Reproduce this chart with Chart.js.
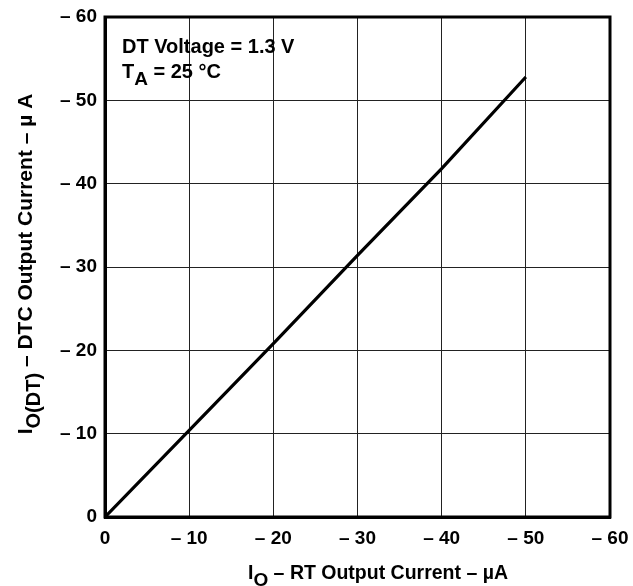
<!DOCTYPE html>
<html>
<head>
<meta charset="utf-8">
<script src="https://cdn.jsdelivr.net/npm/chart.js@4/dist/chart.umd.min.js"></script>
<style>
html,body{margin:0;padding:0;background:#fff;}
#wrap{position:relative;width:633px;height:586px;}
</style>
</head>
<body>
<div id="wrap"><canvas id="c" width="633" height="586"></canvas></div>
<script>
// Data
const rtCurrent = [0, -10, -20, -30, -40, -50];            // I_O (µA)
const dtcCurrent = [0, -10.4, -20.8, -31.4, -41.8, -52.8]; // I_O(DT) (µA)
const xTicks = [0, -10, -20, -30, -40, -50, -60];
const yTicks = [0, -10, -20, -30, -40, -50, -60];
const noteLine1 = 'DT Voltage = 1.3 V';
const noteTemp = ['T', 'A', ' = 25 °C'];
const xTitle = ['I', 'O', ' – RT Output Current – µA'];
const yTitle = ['I', 'O(DT)', ' – DTC Output Current – µ A'];

const FONT = '"Liberation Sans", Arial, sans-serif';
const fmt = v => v === 0 ? '0' : '– ' + Math.abs(v);

function drawSub(ctx, parts, x, y, size, subSize, align) {
  const f = s => 'bold ' + s + 'px ' + FONT;
  ctx.font = f(size);
  const w0 = ctx.measureText(parts[0]).width;
  const w2 = ctx.measureText(parts[2]).width;
  ctx.font = f(subSize);
  const w1 = ctx.measureText(parts[1]).width;
  const total = w0 + w1 + w2;
  const sx = align === 'center' ? x - total / 2 : x;
  ctx.textAlign = 'left';
  ctx.textBaseline = 'alphabetic';
  ctx.font = f(size);
  ctx.fillText(parts[0], sx, y);
  ctx.font = f(subSize);
  ctx.fillText(parts[1], sx + w0, y + size * 0.36);
  ctx.font = f(size);
  ctx.fillText(parts[2], sx + w0 + w1, y);
}

const textPlugin = {
  id: 'texts',
  afterDraw(chart) {
    const ctx = chart.ctx;
    const a = chart.chartArea;
    ctx.save();
    ctx.fillStyle = '#000';
    ctx.font = 'bold 20px ' + FONT;
    ctx.textAlign = 'left';
    ctx.textBaseline = 'alphabetic';
    ctx.fillText(noteLine1, a.left + 17, a.top + 36);
    drawSub(ctx, noteTemp, a.left + 17, a.top + 61, 20, 19, 'left');
    // x title
    drawSub(ctx, xTitle, 248, 579, 19.5, 19, 'left');
    // y title
    ctx.translate(32, 264);
    ctx.rotate(-Math.PI / 2);
    drawSub(ctx, yTitle, 0, 0, 21, 20, 'center');
    ctx.restore();
  }
};

new Chart(document.getElementById('c'), {
  type: 'line',
  data: {
    datasets: [{
      data: rtCurrent.map((x, i) => ({x: x, y: dtcCurrent[i]})),
      borderColor: '#000',
      borderWidth: 3.2,
      pointRadius: 0,
      tension: 0,
      fill: false
    }]
  },
  options: {
    responsive: false,
    animation: false,
    events: [],
    layout: {padding: {left: 0, right: 23, top: 17, bottom: 0}},
    plugins: {legend: {display: false}, tooltip: {enabled: false}},
    scales: {
      x: {
        type: 'linear', min: -60, max: 0, reverse: true,
        afterBuildTicks: s => { s.ticks = xTicks.map(v => ({value: v})); },
        afterFit: s => { s.height = 69; s.paddingLeft = 0; s.paddingRight = 0; },
        ticks: {
          callback: fmt, color: '#000', padding: 10, maxRotation: 0,
          font: {family: FONT, size: 19, weight: 'bold'}
        },
        grid: {color: '#222', lineWidth: 1, drawTicks: false},
        border: {color: '#000', width: 3}
      },
      y: {
        type: 'linear', min: -60, max: 0, reverse: true,
        afterBuildTicks: s => { s.ticks = yTicks.map(v => ({value: v})); },
        afterFit: s => { s.width = 105; s.paddingTop = 0; s.paddingBottom = 0; },
        ticks: {
          callback: fmt, color: '#000', padding: 8,
          font: {family: FONT, size: 19, weight: 'bold'}
        },
        grid: {color: '#222', lineWidth: 1, drawTicks: false},
        border: {color: '#000', width: 3}
      }
    }
  },
  plugins: [textPlugin, {
    id: 'frame',
    afterDatasetsDraw(chart) {
      const a = chart.chartArea, ctx = chart.ctx;
      ctx.save();
      ctx.strokeStyle = '#000';
      ctx.lineWidth = 3;
      ctx.strokeRect(a.left, a.top, a.right - a.left, a.bottom - a.top);
      ctx.restore();
    }
  }]
});
</script>
</body>
</html>
